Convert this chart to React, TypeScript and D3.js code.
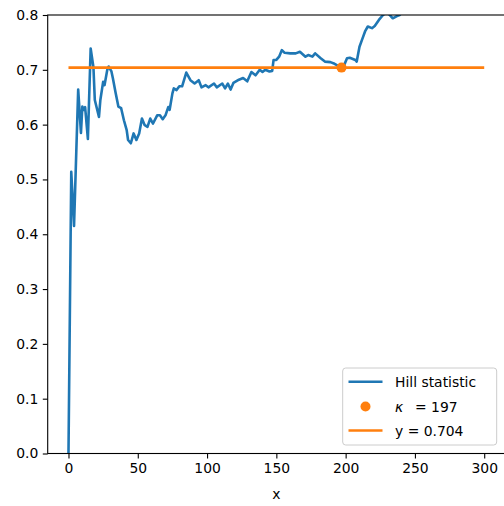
import React, { useRef, useEffect } from 'react';
import * as d3 from 'd3';

// Hill statistic estimates (k, value)
const hillK = [0, 2, 4, 7, 9, 10, 11, 12, 14, 16, 18, 19, 22, 23, 25, 26, 28, 29, 31, 32, 34, 36, 38, 40, 42, 43, 45, 47, 49, 51, 53, 55, 57, 59, 61, 64, 66, 68, 70, 72, 73, 75, 76, 78, 80, 82, 85, 88, 91, 94, 96, 99, 101, 105, 107, 111, 113, 115, 117, 119, 123, 126, 129, 132, 135, 138, 140, 142, 145, 147, 148, 150, 152, 154, 156, 160, 164, 167, 171, 173, 176, 178, 182, 185, 189, 192, 197, 199, 201, 203, 207, 208, 210, 212, 214, 216, 219, 221, 224, 227, 230, 234, 237, 239, 242];
const hillValues = [0, 0.514, 0.415, 0.664, 0.585, 0.633, 0.627, 0.632, 0.574, 0.739, 0.705, 0.645, 0.614, 0.645, 0.678, 0.672, 0.7, 0.706, 0.697, 0.685, 0.658, 0.633, 0.63, 0.608, 0.59, 0.572, 0.566, 0.584, 0.572, 0.584, 0.611, 0.599, 0.596, 0.611, 0.602, 0.617, 0.617, 0.61, 0.617, 0.632, 0.627, 0.657, 0.666, 0.663, 0.67, 0.67, 0.695, 0.681, 0.675, 0.681, 0.668, 0.672, 0.668, 0.675, 0.668, 0.675, 0.666, 0.675, 0.664, 0.676, 0.682, 0.685, 0.679, 0.696, 0.69, 0.7, 0.696, 0.7, 0.697, 0.698, 0.718, 0.718, 0.724, 0.736, 0.731, 0.73, 0.73, 0.733, 0.724, 0.727, 0.724, 0.73, 0.721, 0.715, 0.714, 0.711, 0.704, 0.709, 0.721, 0.722, 0.718, 0.715, 0.742, 0.756, 0.77, 0.779, 0.776, 0.78, 0.791, 0.8, 0.805, 0.794, 0.798, 0.8, 0.81];

const kappa = 197;
const kappaValue = 0.704;
const hlineRange = [0, 300];

const xTicks = [0, 50, 100, 150, 200, 250, 300];
const yTicks = [0, 0.1, 0.2, 0.3, 0.4, 0.5, 0.6, 0.7, 0.8];

const legendLabels = ['Hill statistic', 'κ', 'y = 0.704'];

function App() {
  const svgRef = useRef(null);

  useEffect(() => {
    const svg = d3.select(svgRef.current);
    svg.selectAll('*').remove();

    const width = 504;
    const height = 506;
    const margin = { top: 15, right: -1, bottom: 52.5, left: 47.7 };
    const blue = '#1f77b4';
    const orange = '#ff7f0e';
    const font = 'DejaVu Sans, sans-serif';

    const x = d3.scaleLinear()
      .domain([-15, 315])
      .range([margin.left, width - margin.right]);

    const y = d3.scaleLinear()
      .domain([0, 0.8])
      .range([height - margin.bottom, margin.top]);

    svg.append('defs').append('clipPath')
      .attr('id', 'plot-clip')
      .append('rect')
      .attr('x', margin.left)
      .attr('y', margin.top)
      .attr('width', width - margin.right - margin.left)
      .attr('height', height - margin.bottom - margin.top);

    const plot = svg.append('g').attr('clip-path', 'url(#plot-clip)');

    const line = d3.line()
      .x(d => x(d[0]))
      .y(d => y(d[1]));

    plot.append('path')
      .datum(hillK.map((k, i) => [k, hillValues[i]]))
      .attr('d', line)
      .attr('fill', 'none')
      .attr('stroke', blue)
      .attr('stroke-width', 2.6)
      .attr('stroke-linejoin', 'round');

    plot.append('circle')
      .attr('cx', x(kappa))
      .attr('cy', y(kappaValue))
      .attr('r', 5)
      .attr('fill', orange);

    plot.append('line')
      .attr('x1', x(hlineRange[0]))
      .attr('x2', x(hlineRange[1]))
      .attr('y1', y(kappaValue))
      .attr('y2', y(kappaValue))
      .attr('stroke', orange)
      .attr('stroke-width', 2.6);

    // axes
    const xAxis = svg.append('g')
      .attr('transform', `translate(0, ${height - margin.bottom})`)
      .call(d3.axisBottom(x).tickValues(xTicks).tickSize(4.9).tickPadding(4.5).tickFormat(d3.format('d')));

    const yAxis = svg.append('g')
      .attr('transform', `translate(${margin.left}, 0)`)
      .call(d3.axisLeft(y).tickValues(yTicks).tickSize(4.9).tickPadding(4.5).tickFormat(d3.format('.1f')));

    [xAxis, yAxis].forEach(a => {
      a.select('.domain').remove();
      a.selectAll('line').attr('stroke', '#000').attr('stroke-width', 1.1);
      a.selectAll('text').attr('font-family', font).attr('font-size', 13.9).attr('fill', '#000');
    });

    // spines
    svg.append('rect')
      .attr('x', margin.left)
      .attr('y', margin.top)
      .attr('width', width - margin.right - margin.left)
      .attr('height', height - margin.bottom - margin.top)
      .attr('fill', 'none')
      .attr('stroke', '#000')
      .attr('stroke-width', 1.1);

    svg.append('text')
      .attr('x', (margin.left + width - margin.right) / 2)
      .attr('y', 499)
      .attr('text-anchor', 'middle')
      .attr('font-family', font)
      .attr('font-size', 13.9)
      .text('x');

    // legend
    const legend = svg.append('g');
    legend.append('rect')
      .attr('x', 342.7)
      .attr('y', 368)
      .attr('width', 154)
      .attr('height', 77)
      .attr('rx', 3)
      .attr('fill', '#fff')
      .attr('fill-opacity', 0.8)
      .attr('stroke', '#cccccc');

    const rows = [381.7, 406.5, 430.5];
    legend.append('line')
      .attr('x1', 348.5).attr('x2', 382.5)
      .attr('y1', rows[0]).attr('y2', rows[0])
      .attr('stroke', blue).attr('stroke-width', 2.6);
    legend.append('circle')
      .attr('cx', 365.5).attr('cy', rows[1])
      .attr('r', 5)
      .attr('fill', orange);
    legend.append('line')
      .attr('x1', 348.5).attr('x2', 382.5)
      .attr('y1', rows[2]).attr('y2', rows[2])
      .attr('stroke', orange).attr('stroke-width', 2.6);

    legend.append('text')
      .attr('x', 395).attr('y', rows[0] + 5)
      .attr('font-family', font).attr('font-size', 13.9)
      .text(legendLabels[0]);

    const kt = legend.append('text')
      .attr('x', 395).attr('y', rows[1] + 5)
      .attr('font-family', font).attr('font-size', 13.9)
      .attr('xml:space', 'preserve');
    kt.append('tspan').attr('font-style', 'italic').text(legendLabels[1]);
    kt.append('tspan').attr('dx', 3).text(`  = ${kappa}`);

    legend.append('text')
      .attr('x', 395).attr('y', rows[2] + 5)
      .attr('font-family', font).attr('font-size', 13.9)
      .text(legendLabels[2]);
  }, []);

  return (
    <svg
      ref={svgRef}
      width={504}
      height={506}
      style={{ position: 'absolute', left: 0, top: 0, background: '#fff' }}
    ></svg>
  );
}

export default App;
